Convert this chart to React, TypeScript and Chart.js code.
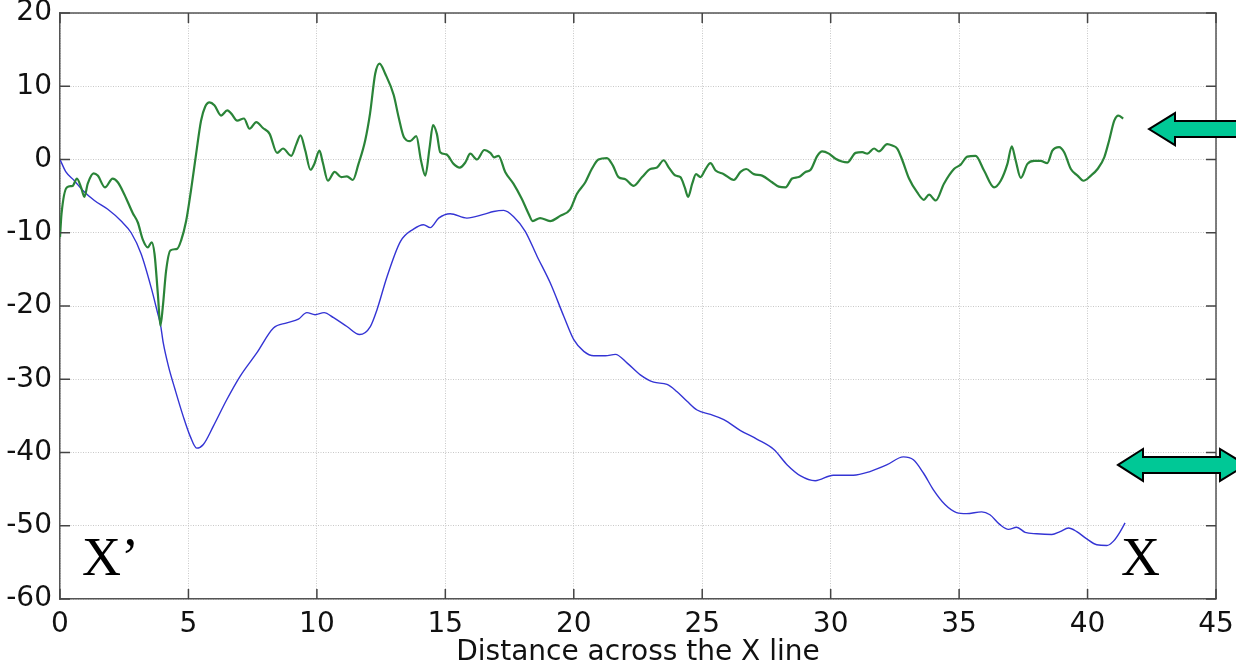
import React, { useEffect, useRef } from "react";
import { Chart, registerables } from "chart.js";

Chart.register(...registerables);

const xTicks = [0, 5, 10, 15, 20, 25, 30, 35, 40, 45];
const yTicks = [-60, -50, -40, -30, -20, -10, 0, 10, 20];
const xTitle = "Distance across the X line";
const startLabel = "X\u2019";
const endLabel = "X";

const greenPoints: [number, number][] = [
  [0, -10.6], [0.06, -7.4], [0.27, -3.8], [0.49, -3.6], [0.66, -2.6], [0.82, -3.8], [0.95, -5.1],
  [1.08, -3.3], [1.31, -1.9], [1.47, -2.2], [1.75, -3.8], [2.05, -2.6], [2.25, -3.1], [2.51, -4.8],
  [2.83, -7.3], [3.03, -8.6], [3.22, -10.9], [3.42, -12.0], [3.57, -11.3], [3.68, -12.9], [3.81, -18.4],
  [3.91, -22.7], [4.0, -20.2], [4.13, -15.2], [4.3, -12.4], [4.56, -12.2], [4.71, -11.1], [4.91, -8.4],
  [5.1, -4.2], [5.3, 0.8], [5.49, 5.3], [5.65, 7.2], [5.82, 7.8], [6.01, 7.4], [6.27, 6.0], [6.51, 6.7],
  [6.66, 6.3], [6.9, 5.3], [7.16, 5.6], [7.38, 4.2], [7.64, 5.1], [7.9, 4.3], [8.16, 3.5], [8.45, 0.9],
  [8.68, 1.5], [9.0, 0.5], [9.2, 2.1], [9.36, 3.3], [9.55, 1.2], [9.75, -1.4], [9.9, -0.6], [10.1, 1.2],
  [10.23, -0.4], [10.43, -2.9], [10.69, -1.7], [10.95, -2.4], [11.17, -2.3], [11.4, -2.8], [11.62, -0.6],
  [11.88, 2.6], [12.07, 6.3], [12.27, 11.7], [12.44, 13.1], [12.66, 11.7], [12.99, 8.8], [13.18, 5.8],
  [13.38, 3.1], [13.63, 2.5], [13.87, 3.2], [14.05, -0.1], [14.22, -2.2], [14.39, 1.7], [14.52, 4.7],
  [14.67, 3.5], [14.8, 1.0], [15.04, 0.7], [15.32, -0.6], [15.56, -1.1], [15.78, -0.4], [15.97, 0.8],
  [16.23, 0.0], [16.52, 1.3], [16.75, 0.9], [16.9, 0.3], [17.07, 0.5], [17.33, -1.7], [17.65, -3.3],
  [17.98, -5.4], [18.24, -7.4], [18.4, -8.4], [18.69, -8.0], [19.08, -8.4], [19.47, -7.7], [19.86, -6.8],
  [20.12, -4.7], [20.45, -3.1], [20.7, -1.3], [20.96, 0.0], [21.29, 0.2], [21.52, -0.8], [21.74, -2.4],
  [22.01, -2.7], [22.33, -3.6], [22.66, -2.4], [22.98, -1.3], [23.24, -1.1], [23.5, -0.1], [23.7, -1.1],
  [23.96, -2.2], [24.15, -2.4], [24.32, -3.8], [24.45, -5.1], [24.61, -3.3], [24.76, -2.0], [24.93, -2.4],
  [25.13, -1.3], [25.32, -0.5], [25.52, -1.5], [25.84, -2.0], [26.23, -2.8], [26.49, -1.7], [26.71, -1.3],
  [27.01, -2.0], [27.33, -2.2], [27.72, -3.1], [27.98, -3.7], [28.24, -3.8], [28.5, -2.6], [28.76, -2.4],
  [29.02, -1.7], [29.22, -1.4], [29.48, 0.5], [29.67, 1.1], [29.93, 0.8], [30.19, 0.1], [30.65, -0.4],
  [30.97, 0.9], [31.23, 1.0], [31.43, 0.8], [31.69, 1.5], [31.88, 1.1], [32.2, 2.1], [32.4, 1.9],
  [32.59, 1.5], [32.79, -0.1], [33.05, -2.6], [33.37, -4.5], [33.63, -5.5], [33.83, -4.8], [34.09, -5.6],
  [34.41, -3.3], [34.8, -1.3], [35.06, -0.7], [35.32, 0.4], [35.64, 0.5], [35.97, -1.5], [36.36, -3.8],
  [36.62, -2.9], [36.88, -0.6], [37.05, 1.8], [37.2, -0.1], [37.4, -2.5], [37.66, -0.6], [37.92, -0.2],
  [38.17, -0.2], [38.43, -0.5], [38.63, 1.2], [38.89, 1.7], [39.09, 1.0], [39.35, -1.3], [39.61, -2.2],
  [39.84, -2.9], [40.13, -2.2], [40.39, -1.3], [40.65, 0.3], [40.84, 2.6], [41.04, 5.3], [41.2, 6.0],
  [41.39, 5.6],
];

const bluePoints: [number, number][] = [
  [0, 0], [0.23, -1.7], [0.56, -2.9], [0.88, -4.2], [1.34, -5.6], [1.86, -6.8], [2.38, -8.4],
  [2.77, -10.0], [3.16, -12.9], [3.55, -17.5], [3.81, -21.1], [3.91, -22.5], [4.02, -25.05],
  [4.22, -28.2], [4.48, -31.4], [4.8, -35.1], [5.07, -37.8], [5.32, -39.4], [5.58, -38.9],
  [5.97, -36.4], [6.49, -32.8], [7.01, -29.6], [7.66, -26.4], [8.31, -23.0], [8.83, -22.3],
  [9.28, -21.8], [9.61, -20.9], [9.93, -21.2], [10.28, -20.9], [10.65, -21.6], [11.17, -22.8],
  [11.66, -23.9], [12.08, -22.8], [12.34, -20.5], [12.73, -16.0], [13.25, -11.2], [13.76, -9.5],
  [14.15, -8.9], [14.41, -9.3], [14.74, -8.0], [15.19, -7.4], [15.84, -8.0], [16.49, -7.5],
  [16.88, -7.1], [17.27, -6.95], [17.66, -7.8], [18.11, -9.8], [18.57, -13.2], [19.09, -16.9],
  [19.61, -21.4], [20.0, -24.6], [20.39, -26.2], [20.78, -26.8], [21.23, -26.8], [21.62, -26.6],
  [22.08, -27.8], [22.59, -29.4], [23.11, -30.4], [23.63, -30.7], [24.02, -31.7], [24.41, -33.0],
  [24.8, -34.2], [25.32, -34.8], [25.84, -35.5], [26.49, -37.0], [27.14, -38.2], [27.79, -39.6],
  [28.31, -41.7], [28.83, -43.2], [29.4, -43.85], [30.1, -43.1], [30.88, -43.1], [31.53, -42.6],
  [32.18, -41.7], [32.83, -40.6], [33.22, -41.0], [33.61, -42.8], [34.0, -45.1], [34.45, -47.1],
  [34.9, -48.2], [35.29, -48.35], [35.88, -48.1], [36.2, -48.5], [36.59, -49.85], [36.92, -50.5],
  [37.24, -50.2], [37.57, -50.9], [38.02, -51.1], [38.61, -51.2], [38.93, -50.8], [39.26, -50.3],
  [39.58, -50.8], [39.97, -51.8], [40.36, -52.6], [40.75, -52.7], [41.01, -52.1], [41.27, -50.8],
  [41.46, -49.6],
];

const FONT = '"DejaVu Sans", "Liberation Sans", Arial, sans-serif';

const decorPlugin = {
  id: "decor",
  afterDraw(chart: any) {
    const { ctx, chartArea: a, scales } = chart;
    const xs = scales.x;
    const ys = scales.y;
    ctx.save();
    // top and right frame
    ctx.strokeStyle = "#555";
    ctx.lineWidth = 1.5;
    ctx.beginPath();
    ctx.moveTo(a.left, a.top);
    ctx.lineTo(a.right, a.top);
    ctx.lineTo(a.right, a.bottom);
    ctx.stroke();
    // inward tick marks on all four sides
    const L = 10;
    ctx.strokeStyle = "#444";
    ctx.lineWidth = 1.5;
    ctx.beginPath();
    xTicks.forEach((v) => {
      const px = xs.getPixelForValue(v);
      ctx.moveTo(px, a.bottom);
      ctx.lineTo(px, a.bottom - L);
      ctx.moveTo(px, a.top);
      ctx.lineTo(px, a.top + L);
    });
    yTicks.forEach((v) => {
      const py = ys.getPixelForValue(v);
      ctx.moveTo(a.left, py);
      ctx.lineTo(a.left + L, py);
      ctx.moveTo(a.right, py);
      ctx.lineTo(a.right - L, py);
    });
    ctx.stroke();

    // end labels
    ctx.fillStyle = "#000";
    ctx.font = '54px "Liberation Serif", "Times New Roman", serif';
    ctx.textBaseline = "alphabetic";
    ctx.textAlign = "left";
    ctx.fillText(startLabel, a.left + 22, a.bottom - 24);
    ctx.fillText(endLabel, a.left + 1061, a.bottom - 24);

    // arrows
    ctx.fillStyle = "#00c896";
    ctx.strokeStyle = "#000";
    ctx.lineWidth = 2;
    ctx.lineJoin = "miter";
    const hh = 16;
    const sh = 8;
    // single left arrow (green curve)
    const t1x = a.right - 67;
    const t1y = ys.getPixelForValue(4.15);
    const b1 = t1x + 26;
    ctx.beginPath();
    ctx.moveTo(t1x, t1y);
    ctx.lineTo(b1, t1y - hh);
    ctx.lineTo(b1, t1y - sh);
    ctx.lineTo(a.right + 40, t1y - sh);
    ctx.lineTo(a.right + 40, t1y + sh);
    ctx.lineTo(b1, t1y + sh);
    ctx.lineTo(b1, t1y + hh);
    ctx.closePath();
    ctx.fill();
    ctx.stroke();
    // double arrow (blue curve)
    const t2x = a.right - 98;
    const t2y = ys.getPixelForValue(-41.7);
    const b2 = t2x + 25;
    const r2 = a.right + 4;
    const tip2 = r2 + 26;
    ctx.beginPath();
    ctx.moveTo(t2x, t2y);
    ctx.lineTo(b2, t2y - hh);
    ctx.lineTo(b2, t2y - sh);
    ctx.lineTo(r2, t2y - sh);
    ctx.lineTo(r2, t2y - hh);
    ctx.lineTo(tip2, t2y);
    ctx.lineTo(r2, t2y + hh);
    ctx.lineTo(r2, t2y + sh);
    ctx.lineTo(b2, t2y + sh);
    ctx.lineTo(b2, t2y + hh);
    ctx.closePath();
    ctx.fill();
    ctx.stroke();
    ctx.restore();
  },
};

export default function App() {
  const ref = useRef<HTMLCanvasElement | null>(null);
  useEffect(() => {
    if (!ref.current) return;
    const chart = new Chart(ref.current, {
      type: "line",
      data: {
        datasets: [
          {
            label: "green",
            data: greenPoints.map(([x, y]) => ({ x, y })),
            borderColor: "#2a8438",
            borderWidth: 2.2,
            pointRadius: 0,
            cubicInterpolationMode: "monotone",
            fill: false,
          },
          {
            label: "blue",
            data: bluePoints.map(([x, y]) => ({ x, y })),
            borderColor: "#3434d4",
            borderWidth: 1.4,
            pointRadius: 0,
            cubicInterpolationMode: "monotone",
            fill: false,
          },
        ],
      },
      options: {
        animation: false,
        responsive: false,
        devicePixelRatio: 1,
        layout: { padding: { top: 13, right: 20, left: 0, bottom: 0 } },
        plugins: { legend: { display: false }, tooltip: { enabled: false } },
        scales: {
          x: {
            type: "linear",
            min: 0,
            max: 45,
            afterBuildTicks: (s: any) => {
              s.ticks = xTicks.map((v) => ({ value: v }));
            },
            afterFit: (s: any) => {
              s.height = 71;
              s.paddingLeft = 0;
              s.paddingRight = 0;
            },
            ticks: {
              font: { family: FONT, size: 28 },
              color: "#111",
              padding: 9,
              maxRotation: 0,
              autoSkip: false,
            },
            grid: { color: "#c8c8c8", lineWidth: 1, drawTicks: false },
            border: { display: true, color: "#555", width: 1.5, dash: [1, 1.5] },
            title: {
              display: true,
              text: xTitle,
              font: { family: FONT, size: 28 },
              color: "#111",
              padding: { top: 0, bottom: 0 },
            },
          },
          y: {
            type: "linear",
            min: -60,
            max: 20,
            afterBuildTicks: (s: any) => {
              s.ticks = yTicks.map((v) => ({ value: v }));
            },
            afterFit: (s: any) => {
              s.width = 60;
              s.paddingTop = 0;
              s.paddingBottom = 0;
            },
            ticks: {
              font: { family: FONT, size: 28 },
              color: "#111",
              padding: 8,
              autoSkip: false,
            },
            grid: { color: "#c8c8c8", lineWidth: 1, drawTicks: false },
            border: { display: true, color: "#555", width: 1.5, dash: [1, 1.5] },
          },
        },
      },
      plugins: [decorPlugin],
    } as any);
    return () => chart.destroy();
  }, []);
  return (
    <div style={{ position: "absolute", left: 0, top: 0, width: 1236, height: 670, background: "#fff" }}>
      <canvas ref={ref} width={1236} height={670} style={{ display: "block" }} />
    </div>
  );
}
